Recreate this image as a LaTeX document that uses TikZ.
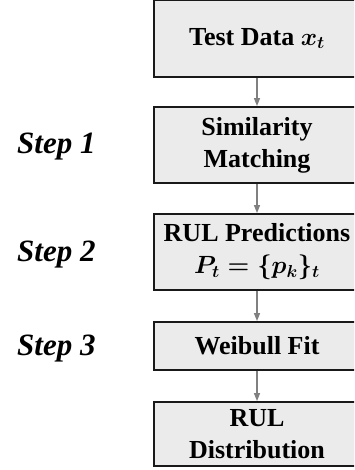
\documentclass[tikz,border=0pt]{standalone}
\usepackage{amsmath}
\usepackage{fontspec}
\setmainfont{Liberation Serif}
\usetikzlibrary{arrows.meta}

\begin{document}
\begin{tikzpicture}[x=1pt,y=-1pt,
  block/.style={draw=black!90,line width=1.8pt,fill=black!8,minimum width=206pt,
    align=center,inner sep=0pt,font=\fontsize{26}{32}\selectfont\bfseries\boldmath},
  steplabel/.style={anchor=west,inner sep=0pt,font=\fontsize{31}{37}\selectfont\bfseries\itshape},
  flow/.style={draw=black!50,line width=1.4pt,-{Triangle[width=6pt,length=8pt]}}]

\clip (0,0) rectangle (354,470);

\node[block,minimum height=77pt] (data) at (257,38.5) {Test Data $x_t$};
\node[block,minimum height=76pt] (match) at (257,145) {Similarity\\Matching};
\node[block,minimum height=76pt] (pred) at (257,252) {RUL Predictions\\$P_t=\{p_k\}_t$};
\node[block,minimum height=48pt] (fit) at (257,346) {Weibull Fit};
\node[block,minimum height=64pt] (dist) at (257,434) {RUL\\Distribution};

\node[steplabel] (s1) at (17,147) {Step 1};
\node[steplabel] (s2) at (17,255) {Step 2};
\node[steplabel] (s3) at (17,349) {Step 3};

\draw[flow] (data) -- (match);
\draw[flow] (match) -- (pred);
\draw[flow] (pred) -- (fit);
\draw[flow] (fit) -- (dist);

\end{tikzpicture}
\end{document}
